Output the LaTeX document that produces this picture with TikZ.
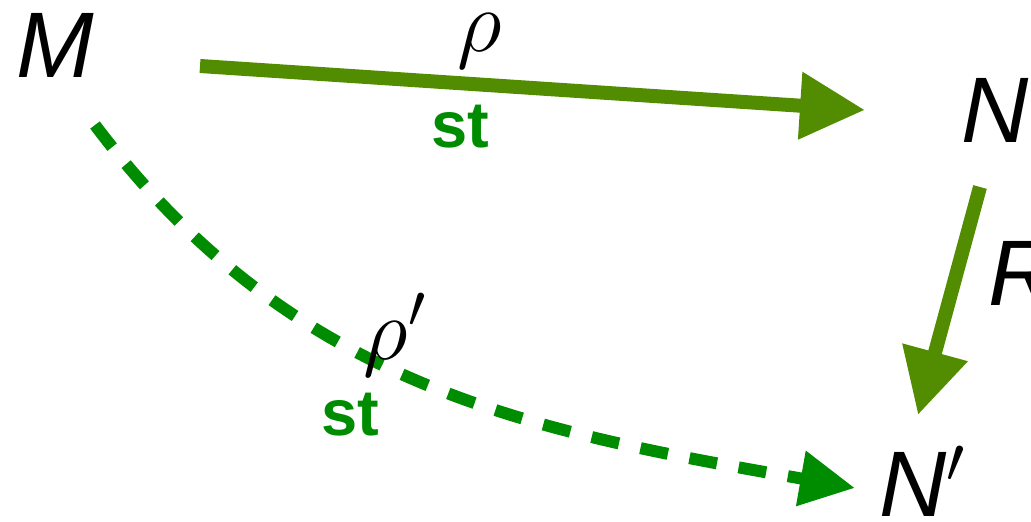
\documentclass[tikz,border=0pt]{standalone}
\usepackage{fix-cm}
\usepackage{fontspec}
\setmainfont{Liberation Sans}
\usepackage{xcolor}
\usetikzlibrary{arrows.meta}
\definecolor{mapgreen}{HTML}{528C00}
\definecolor{stgreen}{HTML}{008C00}

\begin{document}
\begin{tikzpicture}[
    obj/.style={font=\fontsize{53}{62}\selectfont\itshape, inner sep=0pt},
    lbl/.style={font=\fontsize{50}{60}\selectfont, inner sep=0pt},
    sttag/.style={font=\fontsize{37}{44}\selectfont\bfseries, text=stgreen, inner sep=0pt},
    map/.style={draw=mapgreen, line width=0.28cm,
                -{Triangle[length=1.3cm, width=1.28cm]}},
    stmap/.style={draw=stgreen, line width=0.24cm, dash pattern=on 0.56cm off 0.44cm,
                  -{Triangle[length=1.1cm, width=1.06cm]}},
]
\useasboundingbox (0,0) rectangle (20.62,10.42);

% Objekte
\node[obj] (M)  at (1.1, 9.52) {M};
\node[obj] (N)  at (19.9, 8.22) {N};
\node[obj] (Np) at (18.45, 0.8) {N$'$};

% Pfeile
\draw[map] ([xshift=2.9cm, yshift=-0.42cm]M.center) -- ([xshift=-2.6cm]N.center);
\draw[map] ([xshift=-0.3cm, yshift=-1.54cm]N.center) -- ([xshift=-0.09cm, yshift=1.32cm]Np.center);
\draw[stmap] ([xshift=0.8cm, yshift=-1.6cm]M.center)
    to[out=-53, in=170] ([xshift=-1.35cm, yshift=-0.14cm]Np.center);

% Beschriftungen
\node[lbl] (rho)  at (9.6, 9.6) {$\rho$};
\node[sttag] (st1) at (9.2, 7.88) {st};
\node[obj] (R)    at (20.45, 4.96) {R};
\node[lbl] (rhop) at (7.9, 3.72) {$\rho'$};
\node[sttag] (st2) at (7.0, 2.12) {st};

\end{tikzpicture}
\end{document}
